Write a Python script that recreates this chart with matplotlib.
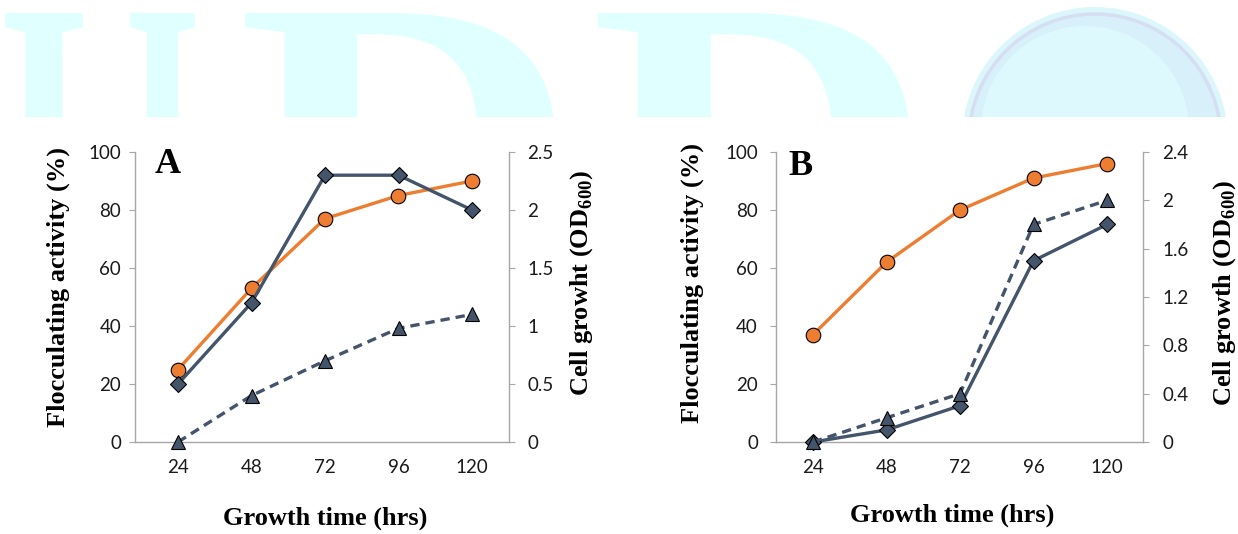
import numpy as np
import matplotlib
matplotlib.use('Agg')
import matplotlib.pyplot as plt
from matplotlib.textpath import TextPath
from matplotlib.patches import PathPatch, Circle
from matplotlib.font_manager import FontProperties
from matplotlib.transforms import Affine2D, Bbox, TransformedBbox

## Data

hours = ['24', '48', '72', '96', '120']

# Panel A
floc_a = [25, 53, 77, 85, 90]              # flocculating activity (%)
diam_a = [0.5, 1.2, 2.3, 2.3, 2.0]         # right axis
growth_a = [0.0, 0.4, 0.7, 0.98, 1.1]      # cell growth OD600

# Panel B
floc_b = [37, 62, 80, 91, 96]
diam_b = [0.0, 0.1, 0.3, 1.5, 1.8]
growth_b = [0.0, 0.2, 0.4, 1.8, 2.0]

left_ticks = [0, 20, 40, 60, 80, 100]
right_ticks_a = [0, 0.5, 1, 1.5, 2, 2.5]
right_labels_a = ['0', '0.5', '1', '1.5', '2', '2.5']
right_ticks_b = [0, 0.4, 0.8, 1.2, 1.6, 2.0, 2.4]
right_labels_b = ['0', '0.4', '0.8', '1.2', '1.6', '2', '2.4']

## Style

W, H = 1238, 534
ORANGE = '#ED7D31'
SLATE = '#44546A'
GRAY = '#A6A6A6'
TXT = '#1a1a1a'
CYAN = '#E0FFFF'

plt.rcParams['mathtext.fontset'] = 'custom'
plt.rcParams['mathtext.bf'] = 'Liberation Serif:bold'
plt.rcParams['mathtext.rm'] = 'Liberation Serif:bold'

fig = plt.figure(figsize=(W / 100, H / 100), dpi=100)


def fx(x):
    return x / W


def fy(y):
    return 1 - y / H


## Watermark (journal logo behind the figure)

to_fig = Affine2D().scale(1 / W, 1 / H) + fig.transFigure
clip = TransformedBbox(Bbox.from_extents(0, fy(117), 1, 1), fig.transFigure)
wm_font = FontProperties(family='Liberation Serif', weight='bold')
wm_letters = [('I', 5, 83), ('I', 130, 195), ('D', 245, 555), ('D', 598, 910)]
cap_h = 260
for ch, x0, x1 in wm_letters:
    tp = TextPath((0, 0), ch, size=100, prop=wm_font)
    bb = tp.get_extents()
    tr = (Affine2D().translate(-bb.x0, -bb.y1)
          .scale((x1 - x0) / bb.width, cap_h / bb.height)
          .translate(x0, H - 13)) + to_fig
    p = PathPatch(tp, transform=tr, facecolor=CYAN, edgecolor='none', zorder=-5)
    p.set_clip_box(clip)
    fig.patches.append(p)

globe = Circle((1095, H - 140), 133, transform=to_fig, facecolor='#DCF7FC',
               edgecolor='none', zorder=-5)
ring = Circle((1095, H - 140), 126, transform=to_fig, facecolor='#D8F0FA',
              edgecolor='#D6DEF2', lw=2.5, zorder=-4)
inner = Circle((1085, H - 130), 104, transform=to_fig, facecolor='#DDF9FD',
               edgecolor='none', zorder=-4)
for c in (globe, ring, inner):
    c.set_clip_box(clip)
    fig.patches.append(c)


## Panels

def panel(left, right, x_first, floc, diam, growth, rmax, rticks, rlabels,
          lpad, rpad):
    top, bottom = 152, 442
    ax = fig.add_axes([fx(left), fy(bottom), fx(right - left), (bottom - top) / H])
    ax.patch.set_alpha(0)
    x = np.arange(len(hours))
    step = 73.5
    ax.set_xlim((left - x_first) / step, (right - x_first) / step)
    ax.set_ylim(0, 100)
    ax.set_yticks(left_ticks)
    ax.set_xticks(x)
    ax.set_xticklabels(hours)

    ax2 = ax.twinx()
    ax2.set_ylim(0, rmax)
    ax2.set_yticks(rticks)
    ax2.set_yticklabels(rlabels)

    for a in (ax, ax2):
        for s in a.spines.values():
            s.set_color(GRAY)
            s.set_linewidth(1.0)
        a.spines['top'].set_visible(False)
    ax.spines['right'].set_visible(False)
    ax2.spines['left'].set_visible(False)
    ax2.spines['bottom'].set_visible(False)

    ax.tick_params(axis='y', direction='out', length=4, width=0.8, color=GRAY,
                   pad=lpad, labelsize=13.5, labelcolor=TXT)
    ax2.tick_params(axis='y', direction='out', length=4, width=0.8, color=GRAY,
                    pad=rpad, labelsize=13.5, labelcolor=TXT)
    ax.tick_params(axis='x', length=0, pad=12, labelsize=13.5, labelcolor=TXT)
    for lab in ax.get_xticklabels() + ax.get_yticklabels() + ax2.get_yticklabels():
        lab.set_fontfamily('Lato')

    ax.plot(x, floc, color=ORANGE, lw=2.4, marker='o', ms=10.5,
            mfc=ORANGE, mec='black', mew=0.8, clip_on=False, zorder=3)
    ax2.plot(x, diam, color=SLATE, lw=2.4, marker='D', ms=8,
             mfc=SLATE, mec='black', mew=0.8, clip_on=False, zorder=3)
    ax2.plot(x, growth, color=SLATE, lw=2.4, ls=(0, (2.8, 1.8)), marker='^',
             ms=10.5, mfc=SLATE, mec='black', mew=0.8, clip_on=False, zorder=4)
    return ax, ax2


panel(135, 509, 178, floc_a, diam_a, growth_a, 2.5, right_ticks_a, right_labels_a, 6, 9)
panel(776, 1143, 813, floc_b, diam_b, growth_b, 2.4, right_ticks_b, right_labels_b, 9, 10)

lab = dict(fontfamily='Liberation Serif', fontweight='bold', fontsize=19,
           color='black', ha='center', va='center')

fig.text(fx(155), fy(173), 'A', fontfamily='Liberation Serif', fontweight='bold',
         fontsize=26, ha='left', va='baseline')
fig.text(fx(788), fy(175), 'B', fontfamily='Liberation Serif', fontweight='bold',
         fontsize=26, ha='left', va='baseline')

fig.text(fx(58), fy(287), 'Flocculating activity (%)', rotation=90, **lab)
fig.text(fx(582), fy(283), r'Cell growht (OD$_{\mathbf{600}}$)', rotation=90, **lab)
fig.text(fx(325), fy(518), 'Growth time (hrs)', **lab)

fig.text(fx(692), fy(283), 'Flocculating activity (%)', rotation=90, **lab)
fig.text(fx(1225), fy(293), r'Cell growth (OD$_{\mathbf{600}}$)', rotation=90, **lab)
fig.text(fx(952), fy(515), 'Growth time (hrs)', **lab)

fig.savefig('out.png', dpi=100, facecolor='white')
